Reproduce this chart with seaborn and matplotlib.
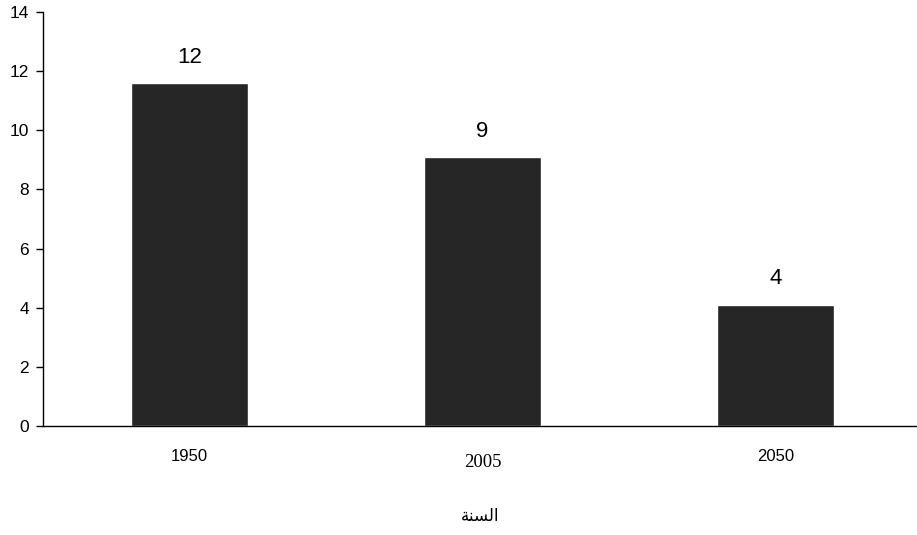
import numpy as np
import pandas as pd
import seaborn as sns
import matplotlib.pyplot as plt

years = ['1950', '2005', '2050']
values = [11.6, 9.1, 4.1]
labels = ['12', '9', '4']
# السنة, written in shaped visual order since matplotlib does no Arabic shaping
xlabel = '\uFE94\uFEE8\uFEB4\uFEDF\uFE8D'

sns.set_style('white')
plt.rcParams['font.family'] = ['Liberation Sans', 'DejaVu Sans']
plt.rcParams['text.color'] = 'black'

df = pd.DataFrame({'year': years, 'value': values})

fig = plt.figure(figsize=(9.17, 5.35), dpi=100)
ax = fig.add_axes([43 / 917, 109 / 535, 1 - 43 / 917, (426 - 12) / 535])

sns.barplot(data=df, x='year', y='value', color='#262626', width=0.4,
            saturation=1, ax=ax)

for i, (v, t) in enumerate(zip(values, labels)):
    ax.annotate(t, (i, v), xytext=(0, 11), textcoords='offset points',
                ha='center', va='bottom', fontsize=16, color='black')

ax.set_ylim(0, 14)
ax.set_yticks(np.arange(0, 15, 2))
ax.set_xlim(-0.5, 2.5 - 5 / 293)

for s in ['top', 'right']:
    ax.spines[s].set_visible(False)
for s in ['left', 'bottom']:
    ax.spines[s].set_color('black')
    ax.spines[s].set_linewidth(1)

ax.tick_params(axis='y', left=True, length=5, width=1, color='black',
               labelsize=12.5, labelcolor='black', pad=5)
ax.tick_params(axis='x', bottom=False, labelsize=12, labelcolor='black',
               pad=13)

# the middle tick label is set in a serif face in the original
xt = ax.get_xticklabels()
xt[1].set_family(['Liberation Serif', 'DejaVu Sans'])
xt[1].set_fontsize(13.5)
xt[1].set_y(-0.012)

ax.set_ylabel('')
ax.set_xlabel(xlabel, fontsize=12, labelpad=26, color='black',
              family=['DejaVu Sans'])

fig.savefig('out.png', dpi=100)
